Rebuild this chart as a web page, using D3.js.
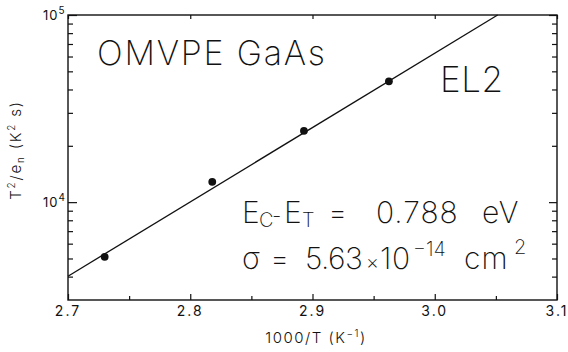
<!DOCTYPE html>
<html>
<head>
<meta charset="utf-8">
<script src="https://cdn.jsdelivr.net/npm/d3@7"></script>
<style>
  html, body { margin: 0; padding: 0; background: #fff; }
  svg { display: block; }
  text { font-family: "Inter", "DejaVu Sans", sans-serif; fill: #111; }
</style>
</head>
<body>
<svg id="chart" width="568" height="352"></svg>
<script>
// Measured emission data for the EL2 trap (OMVPE GaAs)
const invTemp = [2.730, 2.818, 2.893, 2.9625];      // 1000/T (1/K)
const t2OverEn = [5100, 12840, 24060, 44220];       // T^2/e_n (K^2 s)

// Arrhenius fit: activation energy and fitted value at the left edge
const activationEnergy = 0.788;                     // eV
const fitAtLeft = 4020;                             // T^2/e_n at 1000/T = 2.7

const xTicks = [2.7, 2.8, 2.9, 3.0, 3.1];
const xTickLabels = ["2.7", "2.8", "2.9", "3.0", "3.1"];
const xMinorTicks = [2.75, 2.85, 2.95, 3.05];
const yMajorTicks = [1e4, 1e5];
const yTickExponents = ["4", "5"];
const yMinorTicks = [4000, 5000, 6000, 7000, 8000, 9000,
                     20000, 30000, 40000, 50000, 60000, 70000, 80000, 90000];

(function draw() {
  const W = 568, H = 352;
  const M = { left: 68, top: 15, right: 11, bottom: 52 };
  const x0 = M.left, x1 = W - M.right, y0 = H - M.bottom, y1 = M.top;

  const svg = d3.select("#chart");
  const ink = "#111";

  const x = d3.scaleLinear().domain([2.7, 3.1]).range([x0, x1]);
  const y = d3.scaleLog().domain([3000, 1e5]).range([y0, y1]);

  // Frame
  svg.append("rect")
    .attr("x", x0).attr("y", y1)
    .attr("width", x1 - x0).attr("height", y0 - y1)
    .attr("fill", "none").attr("stroke", ink).attr("stroke-width", 1.4);

  const axes = [];
  const addAxis = (axis, tx, ty) =>
    axes.push(svg.append("g").attr("transform", `translate(${tx},${ty})`).call(axis));

  // Bottom axis: inward ticks
  addAxis(d3.axisBottom(x).tickValues(xTicks).tickSize(-6).tickFormat(""), 0, y0);
  addAxis(d3.axisBottom(x).tickValues(xMinorTicks).tickSize(-4).tickFormat(""), 0, y0);
  // Top axis: short major ticks
  addAxis(d3.axisTop(x).tickValues(xTicks).tickSize(-4).tickFormat(""), 0, y1);
  // Left axis
  addAxis(d3.axisLeft(y).tickValues(yMajorTicks).tickSize(-9).tickFormat(""), x0, 0);
  addAxis(d3.axisLeft(y).tickValues(yMinorTicks).tickSize(-5).tickFormat(""), x0, 0);
  // Right axis
  addAxis(d3.axisRight(y).tickValues(yMajorTicks).tickSize(-8).tickFormat(""), x1, 0);
  addAxis(d3.axisRight(y).tickValues(yMinorTicks).tickSize(-5).tickFormat(""), x1, 0);

  axes.forEach(g => {
    g.select(".domain").remove();
    g.selectAll(".tick line").attr("stroke", ink).attr("stroke-width", 1.2);
  });

  // X tick labels
  svg.append("g").selectAll("text")
    .data(xTicks)
    .join("text")
    .attr("x", d => x(d))
    .attr("y", y0 + 16)
    .attr("text-anchor", "middle")
    .attr("font-size", 14)
    .attr("letter-spacing", 2)
    .text((d, i) => xTickLabels[i]);

  // Y tick labels (10^n)
  const yl = svg.append("g").selectAll("text")
    .data(yMajorTicks)
    .join("text")
    .attr("x", 43)
    .attr("y", d => y(d) + 5)
    .attr("font-size", 13)
    .attr("letter-spacing", 1);
  yl.append("tspan").text("10");
  yl.append("tspan").attr("dy", -6).attr("font-size", 10).text((d, i) => yTickExponents[i]);

  // Axis titles
  const xt = svg.append("text")
    .attr("x", 316).attr("y", 343)
    .attr("text-anchor", "middle")
    .attr("font-size", 15)
    .attr("font-weight", 300)
    .attr("letter-spacing", 1.5);
  xt.append("tspan").text("1000/T  (K");
  xt.append("tspan").attr("dy", -6).attr("font-size", 10).text("−1");
  xt.append("tspan").attr("dy", 6).text(")");

  const ytl = svg.append("text")
    .attr("transform", "translate(21,150) rotate(-90)")
    .attr("text-anchor", "middle")
    .attr("font-size", 15)
    .attr("font-weight", 300)
    .attr("letter-spacing", 1.8);
  ytl.append("tspan").text("T");
  ytl.append("tspan").attr("dy", -6).attr("font-size", 10).text("2");
  ytl.append("tspan").attr("dy", 6).text("/e");
  ytl.append("tspan").attr("dy", 3).attr("font-size", 10).text("n");
  ytl.append("tspan").attr("dy", -3).text("  (K");
  ytl.append("tspan").attr("dy", -6).attr("font-size", 10).text("2");
  ytl.append("tspan").attr("dy", 6).text(" s)");

  // Fit line from the activation energy: slope in decades per (1000/K)
  const kB = 8.617e-5;
  const slope = activationEnergy / (kB * Math.LN10 * 1000);
  const xTop = 2.7 + Math.log10(1e5 / fitAtLeft) / slope;
  const fitLine = [2.7, xTop].map(v => [v, fitAtLeft * Math.pow(10, (v - 2.7) * slope)]);

  svg.append("path")
    .datum(fitLine)
    .attr("fill", "none")
    .attr("stroke", ink)
    .attr("stroke-width", 1.3)
    .attr("d", d3.line().x(d => x(d[0])).y(d => y(d[1])));

  // Data points
  svg.append("g").selectAll("circle")
    .data(invTemp.map((v, i) => [v, t2OverEn[i]]))
    .join("circle")
    .attr("cx", d => x(d[0]))
    .attr("cy", d => y(d[1]))
    .attr("r", 3.9)
    .attr("fill", ink);

  // Annotations
  svg.append("text")
    .attr("x", 97).attr("y", 65)
    .attr("font-size", 34).attr("font-weight", 200)
    .attr("textLength", 228).attr("lengthAdjust", "spacing")
    .text("OMVPE GaAs");

  svg.append("text")
    .attr("x", 440).attr("y", 92)
    .attr("font-size", 35).attr("font-weight", 200)
    .attr("textLength", 63).attr("lengthAdjust", "spacing")
    .text("EL2");

  const fs = 30, sub = 20;
  const l1 = svg.append("text").attr("y", 223).attr("font-size", fs).attr("font-weight", 200);
  l1.append("tspan").attr("x", 242).text("E");
  l1.append("tspan").attr("x", 259).attr("dy", 4).attr("font-size", sub).text("C");
  l1.append("tspan").attr("x", 272).attr("dy", -4).attr("font-size", 21).text("-");
  l1.append("tspan").attr("x", 284).attr("font-size", fs).text("E");
  l1.append("tspan").attr("x", 302).attr("dy", 4).attr("font-size", sub).text("T");
  l1.append("tspan").attr("x", 328).attr("dy", -4).attr("font-size", fs).text("=");
  l1.append("tspan").attr("x", 376).attr("letter-spacing", 1).text("0.788");
  l1.append("tspan").attr("x", 482).attr("letter-spacing", 1).text("eV");

  const l2 = svg.append("text").attr("y", 269).attr("font-size", fs).attr("font-weight", 200);
  l2.append("tspan").attr("x", 242).text("σ");
  l2.append("tspan").attr("x", 270).text("=");
  l2.append("tspan").attr("x", 305).attr("letter-spacing", -0.5).text("5.63");
  l2.append("tspan").attr("x", 366).attr("font-size", 20).text("×");
  l2.append("tspan").attr("x", 380).attr("font-size", fs).attr("letter-spacing", 0.5).text("10");
  l2.append("tspan").attr("x", 413).attr("dy", -13).attr("font-size", sub).text("−14");
  l2.append("tspan").attr("x", 464).attr("dy", 13).attr("font-size", fs).attr("letter-spacing", 1).text("cm");
  l2.append("tspan").attr("x", 514).attr("dy", -15).attr("font-size", sub).text("2");
})();
</script>
</body>
</html>
